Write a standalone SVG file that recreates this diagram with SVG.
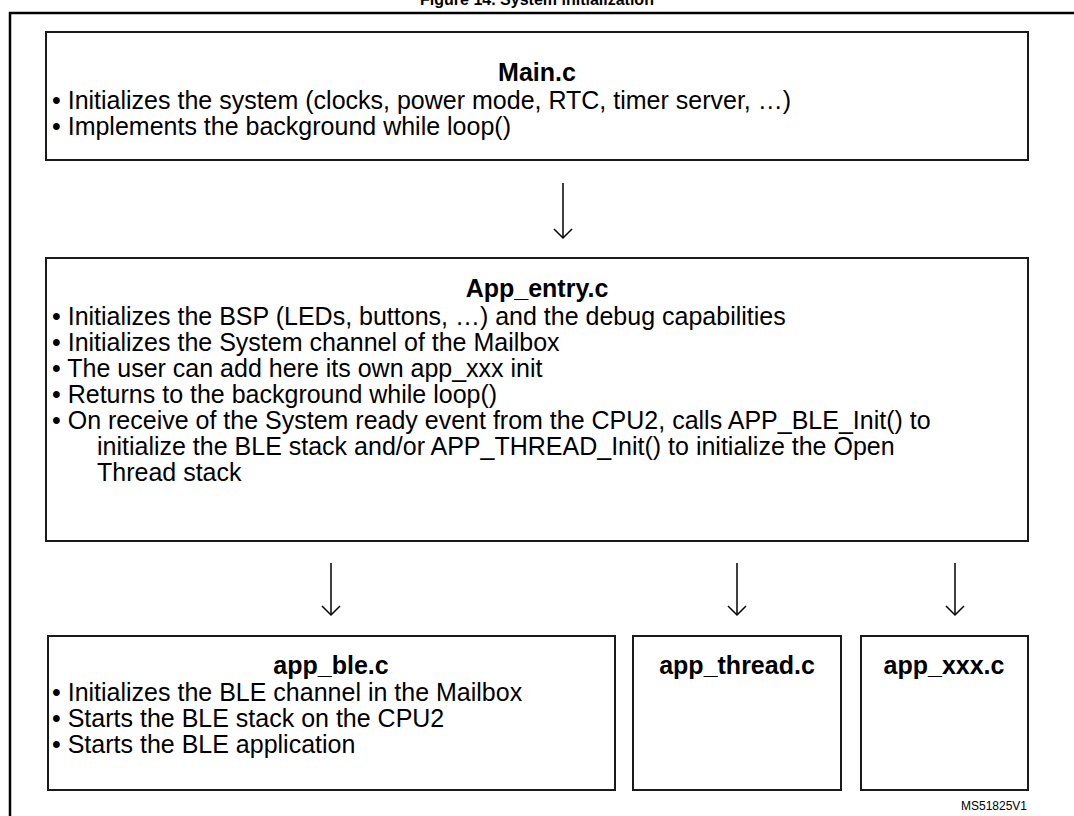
<svg xmlns="http://www.w3.org/2000/svg" width="1074" height="816" viewBox="0 0 1074 816">
<defs>
<style>
.t{font-family:"Liberation Sans",Arial,sans-serif;font-size:25px;fill:#000}
.b{font-weight:bold;text-anchor:middle}
.box{fill:#fff;stroke:#1a1a1a;stroke-width:2}
.ln{stroke:#000;stroke-width:1.5;fill:none}
</style>
<marker id="ah" markerWidth="20" markerHeight="20" viewBox="-10 -10 20 20" refX="0" refY="0" orient="auto" markerUnits="userSpaceOnUse">
<path d="M-9,-9 L0,0 L-9,9" fill="none" stroke="#000" stroke-width="1.5"/>
</marker>
</defs>
<rect width="1074" height="816" fill="#fff"/>
<text class="t b" x="537" y="5" style="font-size:16px">Figure 14. System initialization</text>
<path d="M10,830 L10,13 L1080,13" fill="none" stroke="#000" stroke-width="2.5"/>
<g id="main">
<rect class="box" x="46" y="32" width="982" height="128"/>
<text class="t b" x="537" y="81">Main.c</text>
<text class="t" x="52" y="109">• Initializes the system (clocks, power mode, RTC, timer server, …)</text>
<text class="t" x="52" y="135">• Implements the background while loop()</text>
</g>
<g id="app_entry">
<rect class="box" x="46" y="258" width="982" height="283"/>
<text class="t b" x="537" y="297">App_entry.c</text>
<text class="t" x="52" y="325">• Initializes the BSP (LEDs, buttons, …) and the debug capabilities</text>
<text class="t" x="52" y="351">• Initializes the System channel of the Mailbox</text>
<text class="t" x="52" y="377">• The user can add here its own app_xxx init</text>
<text class="t" x="52" y="403">• Returns to the background while loop()</text>
<text class="t" x="52" y="429">• On receive of the System ready event from the CPU2, calls APP_BLE_Init() to</text>
<text class="t" x="97" y="455">initialize the BLE stack and/or APP_THREAD_Init() to initialize the Open</text>
<text class="t" x="97" y="481">Thread stack</text>
</g>
<g id="app_ble">
<rect class="box" x="48" y="636" width="567" height="154"/>
<text class="t b" x="331" y="674">app_ble.c</text>
<text class="t" x="52" y="701">• Initializes the BLE channel in the Mailbox</text>
<text class="t" x="52" y="727">• Starts the BLE stack on the CPU2</text>
<text class="t" x="52" y="753">• Starts the BLE application</text>
</g>
<g id="app_thread">
<rect class="box" x="633" y="636" width="208" height="154"/>
<text class="t b" x="737" y="674">app_thread.c</text>
</g>
<g id="app_xxx">
<rect class="box" x="861" y="636" width="167" height="154"/>
<text class="t b" x="944" y="674">app_xxx.c</text>
</g>
<g id="connectors">
<line class="ln" x1="563" y1="183" x2="563" y2="238" marker-end="url(#ah)"/>
<line class="ln" x1="331" y1="563" x2="331" y2="615" marker-end="url(#ah)"/>
<line class="ln" x1="737" y1="563" x2="737" y2="615" marker-end="url(#ah)"/>
<line class="ln" x1="955" y1="563" x2="955" y2="615" marker-end="url(#ah)"/>
</g>
<text class="t" x="1027" y="810" style="font-size:12px;text-anchor:end">MS51825V1</text>
</svg>
